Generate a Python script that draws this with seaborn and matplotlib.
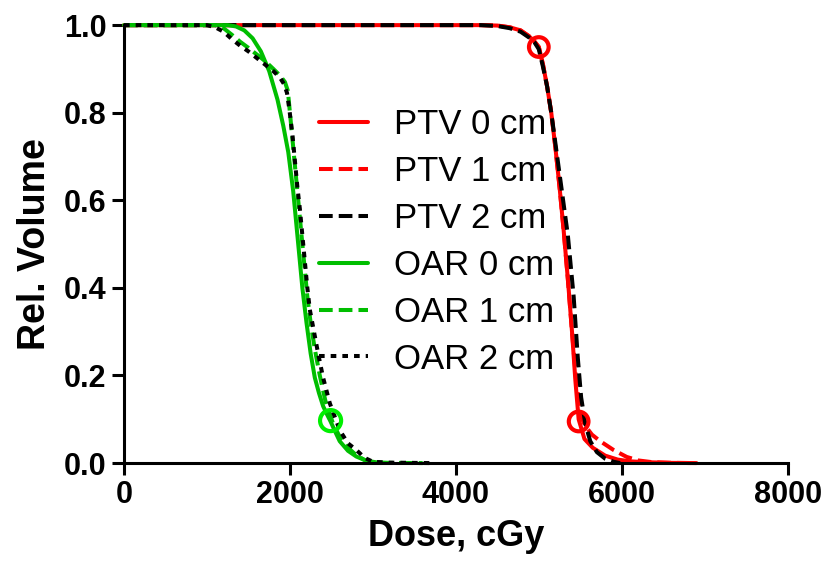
import matplotlib
matplotlib.use("Agg")
import matplotlib.pyplot as plt
import seaborn as sns

# dose-volume histograms
ptv0_dose = [0, 4300, 4500, 4650, 4780, 4880, 4950, 5000, 5050, 5100, 5150, 5200, 5250, 5300,
             5350, 5400, 5440, 5480, 5550, 5650, 5800, 5950, 6100, 6300, 6600, 6900]
ptv0_vol = [1.0, 1.0, 0.999, 0.995, 0.988, 0.975, 0.962, 0.95, 0.91, 0.86, 0.80, 0.72, 0.63, 0.53,
            0.42, 0.30, 0.19, 0.10, 0.055, 0.035, 0.017, 0.008, 0.004, 0.002, 0.0005, 0.0]

ptv1_dose = [0, 4300, 4500, 4650, 4780, 4880, 4950, 5000, 5050, 5100, 5150, 5200, 5250, 5300,
             5350, 5400, 5450, 5500, 5560, 5640, 5740, 5900, 6060, 6200, 6370, 6600, 6900]
ptv1_vol = [1.0, 1.0, 0.999, 0.995, 0.988, 0.975, 0.962, 0.95, 0.91, 0.86, 0.80, 0.72, 0.63, 0.53,
            0.42, 0.30, 0.19, 0.11, 0.085, 0.065, 0.05, 0.03, 0.014, 0.006, 0.002, 0.0005, 0.0]

ptv2_dose = [0, 4300, 4500, 4650, 4780, 4880, 4950, 5000, 5050, 5100, 5150, 5250, 5350, 5420,
             5470, 5510, 5560, 5620, 5700, 5800, 5900, 5980]
ptv2_vol = [1.0, 1.0, 0.998, 0.993, 0.985, 0.972, 0.96, 0.945, 0.905, 0.86, 0.80, 0.66, 0.52, 0.38,
            0.24, 0.15, 0.09, 0.05, 0.025, 0.01, 0.003, 0.0]

oar0_dose = [0, 1250, 1350, 1450, 1550, 1650, 1750, 1850, 1920, 1980, 2040, 2100, 2150, 2200,
             2250, 2300, 2350, 2400, 2450, 2490, 2550, 2600, 2700, 2800, 2900, 3000, 3100]
oar0_vol = [1.0, 1.0, 0.997, 0.988, 0.97, 0.94, 0.895, 0.83, 0.77, 0.71, 0.62, 0.50, 0.40, 0.32,
            0.25, 0.195, 0.16, 0.13, 0.11, 0.095, 0.07, 0.05, 0.028, 0.015, 0.007, 0.003, 0.0]

oar1_dose = [0, 1100, 1200, 1300, 1400, 1500, 1600, 1700, 1800, 1880, 1940, 1975, 2000, 2030,
             2060, 2090, 2120, 2150, 2180, 2210, 2250, 2300, 2360, 2430, 2520, 2600, 2700, 2800,
             2900, 3000, 3200, 3600]
oar1_vol = [1.0, 1.0, 0.993, 0.978, 0.962, 0.948, 0.933, 0.918, 0.90, 0.885, 0.87, 0.85, 0.80, 0.74,
            0.68, 0.62, 0.56, 0.50, 0.44, 0.38, 0.32, 0.26, 0.20, 0.14, 0.09, 0.06, 0.035, 0.018,
            0.007, 0.002, 0.0005, 0.0]

oar2_dose = [0, 1000, 1100, 1200, 1300, 1400, 1500, 1600, 1700, 1800, 1880, 1930, 1965, 1995,
             2030, 2060, 2090, 2120, 2150, 2180, 2210, 2240, 2290, 2340, 2400, 2480, 2600, 2700,
             2800, 2900, 3000, 3200, 3700]
oar2_vol = [1.0, 1.0, 0.995, 0.985, 0.968, 0.953, 0.94, 0.925, 0.91, 0.895, 0.88, 0.865, 0.845, 0.805,
            0.75, 0.69, 0.63, 0.58, 0.52, 0.46, 0.40, 0.35, 0.30, 0.25, 0.195, 0.137, 0.075, 0.045,
            0.03, 0.012, 0.003, 0.001, 0.0]

labels = ["PTV 0 cm", "PTV 1 cm", "PTV 2 cm", "OAR 0 cm", "OAR 1 cm", "OAR 2 cm"]

# marked constraint points
ptv_mark_dose = [5000, 5480]
ptv_mark_vol = [0.95, 0.095]
oar_mark_dose = [2490]
oar_mark_vol = [0.097]

RED = "#ff0000"
GREEN = "#00be00"
MARK_GREEN = "#00f000"
BLACK = "#000000"

sns.set_style("ticks")
plt.rcParams["font.family"] = ["Liberation Sans", "DejaVu Sans"]
plt.rcParams["text.color"] = "black"

fig = plt.figure(figsize=(8.25, 5.71), dpi=100)
ax = fig.add_axes([0.1503, 0.189, 0.8045, 0.767])

DASH = (3.4, 1.5)
DOT = (1.4, 1.5)
series = [
    (ptv0_dose, ptv0_vol, RED, None),
    (ptv1_dose, ptv1_vol, RED, DASH),
    (ptv2_dose, ptv2_vol, BLACK, DASH),
    (oar0_dose, oar0_vol, GREEN, None),
    (oar1_dose, oar1_vol, GREEN, DASH),
    (oar2_dose, oar2_vol, BLACK, DOT),
]
for (x, y, color, dash), label in zip(series, labels):
    sns.lineplot(x=x, y=y, ax=ax, color=color, linewidth=2.9, estimator=None,
                 label=label, clip_on=False)
    line = ax.lines[-1]
    if dash is not None:
        line.set_dashes(dash)

ax.scatter(ptv_mark_dose, ptv_mark_vol, s=200, facecolors="none", edgecolors=RED,
           linewidths=3.0, zorder=5, clip_on=False)
ax.scatter(oar_mark_dose, oar_mark_vol, s=230, facecolors="none", edgecolors=MARK_GREEN,
           linewidths=3.0, zorder=5, clip_on=False)

ax.set_xlim(0, 8000)
ax.set_ylim(0, 1.0)
ax.set_xticks([0, 2000, 4000, 6000, 8000])
ax.set_yticks([0.0, 0.2, 0.4, 0.6, 0.8, 1.0])
ax.set_yticklabels([f"{v:.1f}" for v in [0.0, 0.2, 0.4, 0.6, 0.8, 1.0]])
ax.tick_params(axis="both", direction="out", length=8.5, width=2.2, labelsize=22, pad=4,
               color="black", labelcolor="black")
for lab in ax.get_xticklabels() + ax.get_yticklabels():
    lab.set_fontweight("bold")

for side in ["top", "right"]:
    ax.spines[side].set_visible(False)
for side in ["left", "bottom"]:
    ax.spines[side].set_linewidth(2.2)
    ax.spines[side].set_color("black")

ax.set_xlabel("Dose, cGy", fontsize=26, fontweight="bold", labelpad=6, color="black")
ax.set_ylabel("Rel. Volume", fontsize=27, fontweight="bold", labelpad=8, color="black")

leg = ax.legend(loc="center left", bbox_to_anchor=(0.294, 0.505), frameon=False, fontsize=25,
                handlelength=1.4, handletextpad=0.75, labelspacing=0.4, borderpad=0,
                borderaxespad=0)
for txt in leg.get_texts():
    txt.set_color("black")

fig.savefig("out.png", dpi=100)
